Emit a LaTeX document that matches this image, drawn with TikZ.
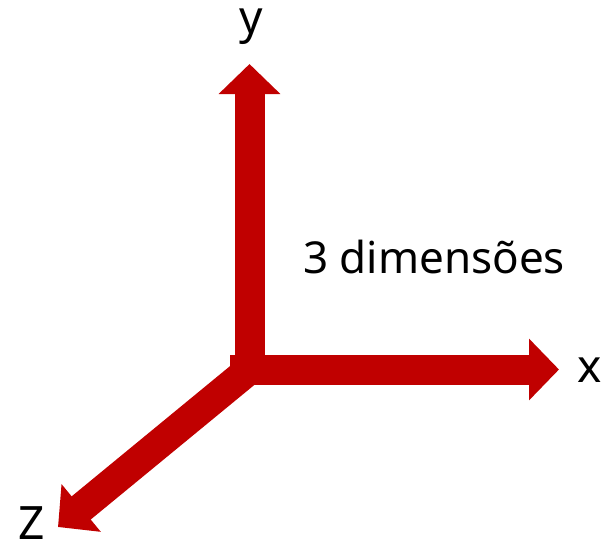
\documentclass[tikz,border=0pt]{standalone}
\usepackage{fontspec}
\setmainfont{Noto Sans}
\usetikzlibrary{arrows.meta}
\definecolor{axisred}{RGB}{192,0,0}
\begin{document}
\begin{tikzpicture}[x=1pt,y=-1pt,
  axis/.style={draw=axisred,line width=30pt,
    -{Triangle[width=60pt,length=30pt,fill=axisred,color=axisred]}},
  lbl/.style={inner sep=0pt,font=\fontsize{46}{50}\selectfont}]
\useasboundingbox (0,0) rectangle (601,552);
\coordinate (O) at (249.5,369.5);
\coordinate (Ytip) at (249.5,64);
\coordinate (Xtip) at (559,369.5);
\coordinate (Xstart) at (230,369.5);
\coordinate (Ztip) at (58,527);
\draw[axis] (O) -- (Ztip);
\draw[axis] (O) -- (Ytip);
\draw[axis] (Xstart) -- (Xtip);
\node[lbl,anchor=base] (ylab) at (251,33) {y};
\node[lbl,anchor=base west] (xlab) at (577,382) {x};
\node[lbl,anchor=base west] (zlab) at (18,539) {Z};
\node[lbl,anchor=base west,font=\fontsize{44}{48}\selectfont] (txt) at (303,273) {3 dimensões};
\end{tikzpicture}
\end{document}
